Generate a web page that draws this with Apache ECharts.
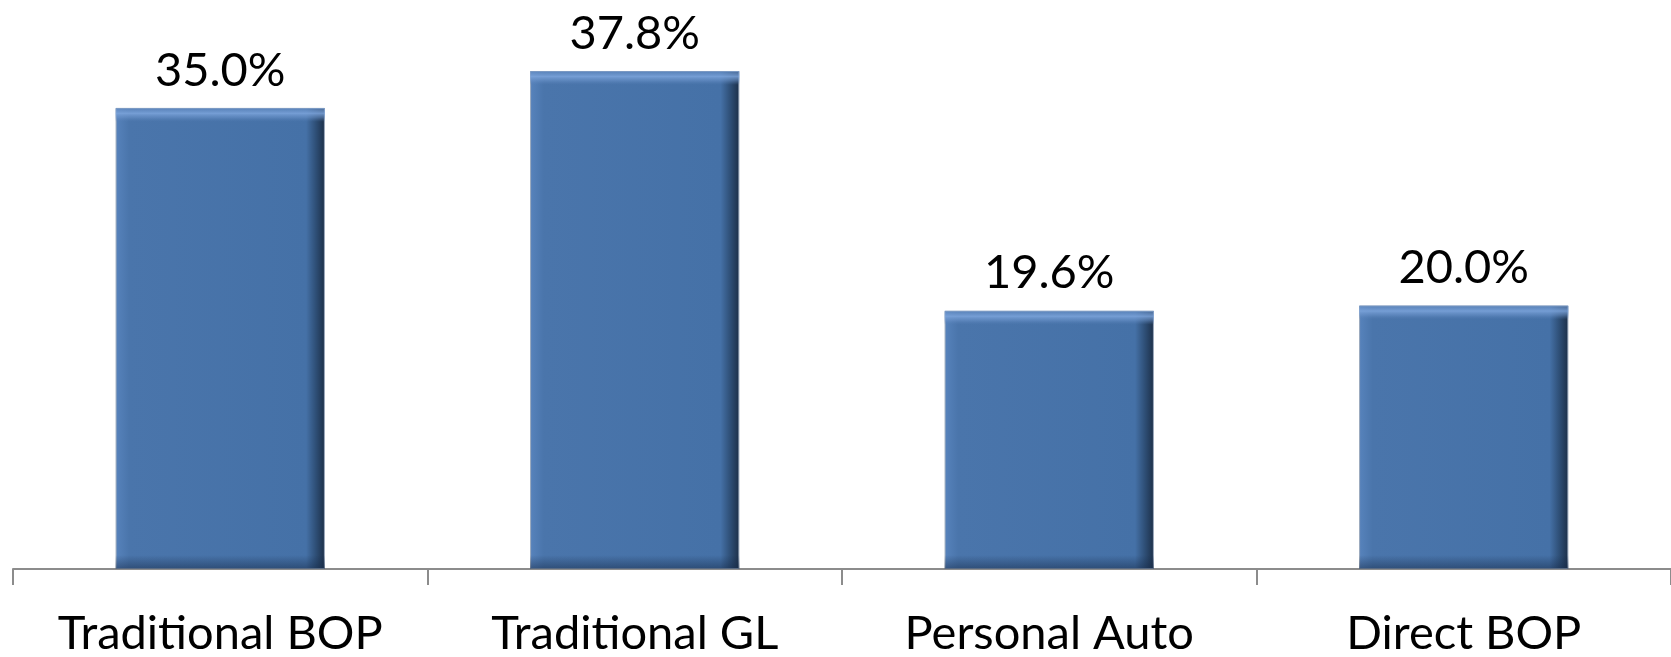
<!DOCTYPE html>
<html>
<head>
<meta charset="utf-8">
<style>
  html, body { margin: 0; padding: 0; background: #ffffff; }
  #chart { width: 1671px; height: 657px; }
</style>
<script src="https://cdn.jsdelivr.net/npm/echarts@6/dist/echarts.min.js"></script>
</head>
<body>
<div id="chart"></div>
<script>
const categories = ['Traditional BOP', 'Traditional GL', 'Personal Auto', 'Direct BOP'];
const values = [35.0, 37.8, 19.6, 20.0];

const FONT = 'Lato';
const GRID_TOP = 42, GRID_H = 532, Y_MAX = 40;
const pxPerUnit = GRID_H / Y_MAX;
const BEVEL = 14;

const chart = echarts.init(document.getElementById('chart'), null, { renderer: 'canvas' });

const baseGradient = new echarts.graphic.LinearGradient(0, 0, 1, 0, [
  { offset: 0, color: '#5783bc' },
  { offset: 0.065, color: '#4a75ab' },
  { offset: 0.91, color: '#4571a7' },
  { offset: 0.955, color: '#2f5078' },
  { offset: 1, color: '#1c2f48' }
]);

const overlayData = values.map(function (v) {
  const h = v * pxPerUnit;
  const f = BEVEL / h;
  return {
    value: v,
    itemStyle: {
      color: new echarts.graphic.LinearGradient(0, 0, 0, 1, [
        { offset: 0, color: 'rgba(100,140,195,0.6)' },
        { offset: f * 0.4, color: 'rgba(125,165,220,0.85)' },
        { offset: f * 0.7, color: 'rgba(110,150,205,0.5)' },
        { offset: f, color: 'rgba(90,130,185,0.0)' },
        { offset: 1 - f, color: 'rgba(20,40,70,0.0)' },
        { offset: 1 - f * 0.4, color: 'rgba(20,40,70,0.3)' },
        { offset: 1, color: 'rgba(20,40,70,0.5)' }
      ])
    }
  };
});

chart.setOption({
  animation: false,
  backgroundColor: '#ffffff',
  grid: { left: 13, top: GRID_TOP, width: 1661, height: GRID_H, containLabel: false },
  xAxis: {
    type: 'category',
    data: categories,
    axisLine: { show: true, lineStyle: { color: '#8c8c8c', width: 2 } },
    axisTick: { show: true, alignWithLabel: false, length: 16, lineStyle: { color: '#8c8c8c', width: 2 } },
    axisLabel: { interval: 0, color: '#000000', fontFamily: FONT, fontSize: 47, margin: 41 }
  },
  yAxis: {
    type: 'value',
    min: 0,
    max: Y_MAX,
    show: false,
    splitLine: { show: false }
  },
  series: [
    {
      type: 'bar',
      data: values,
      barWidth: '50.5%',
      itemStyle: { color: baseGradient, borderColor: '#9aa9bc', borderWidth: 1 },
      label: {
        show: true,
        position: 'top',
        distance: 14,
        color: '#000000',
        fontFamily: FONT,
        fontSize: 47,
        formatter: function (p) { return p.value.toFixed(1) + '%'; }
      },
      z: 2
    },
    {
      type: 'bar',
      data: overlayData,
      barWidth: '50.5%',
      barGap: '-100%',
      silent: true,
      z: 3
    }
  ]
});
</script>
</body>
</html>
